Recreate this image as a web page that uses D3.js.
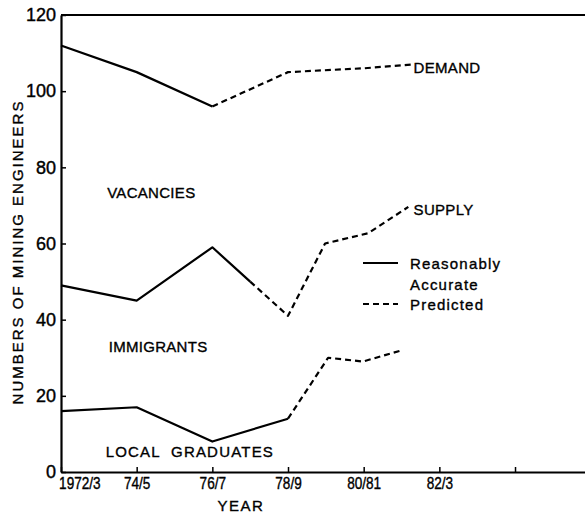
<!DOCTYPE html>
<html>
<head>
<meta charset="utf-8">
<script src="https://cdn.jsdelivr.net/npm/d3@7"></script>
<style>
  body { margin: 0; background: #fff; }
  svg { display: block; font-family: "Liberation Sans", Arial, sans-serif; }
  .axis-line { stroke: #000; stroke-width: 2.2; fill: none; }
  .series { fill: none; stroke: #000; stroke-width: 2.2; stroke-linejoin: round; }
  .dashed { stroke-dasharray: 6 4; }
  .lbl { font-size: 15px; fill: #000; stroke: #000; stroke-width: 0.35; white-space: pre; }
  .tick text { stroke: #000; stroke-width: 0.4; }
</style>
</head>
<body>
<svg id="chart"></svg>
<script>
// x positions are period indexes (0 = 1972/3, 1 = 74/5 ...)
const periods = ['1972/3', '74/5', '76/7', '78/9', '80/81', '82/3', ''];
const yTicks = [0, 20, 40, 60, 80, 100, 120];

// [period index, number of engineers]
const demandAccurate = [[0, 112], [1, 105], [2, 96]];
const demandPredicted = [[2, 96], [3, 105], [4, 106], [4.64, 107]];
const supplyAccurate = [[0, 49], [1, 45], [2, 59], [2.5, 50]];
const supplyPredicted = [[2.5, 50], [3, 41], [3.49, 60], [4.06, 62.7], [4.59, 69.6]];
const graduatesAccurate = [[0, 16], [1, 17], [2, 8], [3, 14]];
const graduatesPredicted = [[3, 14], [3.53, 30], [3.99, 29], [4.51, 32]];

// area labels, anchored in data coordinates
const areaLabels = [
  {text: 'VACANCIES', at: [0.61, 72]},
  {text: 'IMMIGRANTS', at: [0.63, 31.5]},
  {text: 'LOCAL  GRADUATES', at: [0.59, 3.9], spacing: 1.2},
  {text: 'DEMAND', at: [4.66, 104.8]},
  {text: 'SUPPLY', at: [4.66, 67.5]}
];

const width = 585, height = 513;
const margin = {top: 15, left: 61, bottom: 41};

const svg = d3.select('#chart')
  .attr('width', width)
  .attr('height', height);

const x = d3.scaleLinear()
  .domain([0, 7])
  .range([margin.left, margin.left + 7 * 75.67]);

const y = d3.scaleLinear()
  .domain([0, 120])
  .range([height - margin.bottom, margin.top]);

// Axes (ticks point inwards, like the original figure)
const xAxis = d3.axisBottom(x)
  .tickValues(d3.range(periods.length))
  .tickSize(-5)
  .tickSizeOuter(0)
  .tickFormat(i => periods[i]);

const yAxis = d3.axisLeft(y)
  .tickValues(yTicks)
  .tickSize(-5)
  .tickSizeOuter(0);

const xAxisG = svg.append('g')
  .attr('transform', `translate(0,${y(0)})`)
  .call(xAxis);
xAxisG.select('.domain').attr('class', 'axis-line');
xAxisG.selectAll('.tick line').attr('stroke-width', 1.5);
// the original lettering is tall and narrow, so squeeze it a bit
xAxisG.selectAll('.tick text')
  .attr('font-size', 17)
  .attr('y', 3)
  .attr('dy', '0.85em')
  .attr('transform', 'scale(0.8,1)')
  .attr('fill', '#000');
xAxisG.selectAll('.tick').filter(d => d === 0).select('text')
  .attr('text-anchor', 'start')
  .attr('dx', -3);

const yAxisG = svg.append('g')
  .attr('transform', `translate(${x(0)},0)`)
  .call(yAxis);
yAxisG.select('.domain').attr('class', 'axis-line');
yAxisG.selectAll('.tick line').attr('stroke-width', 1.5);
yAxisG.selectAll('.tick text')
  .attr('font-size', 18)
  .attr('x', -5)
  .attr('fill', '#000');

// top frame line
svg.append('line')
  .attr('class', 'axis-line')
  .attr('x1', x(0)).attr('x2', x(7))
  .attr('y1', y(120)).attr('y2', y(120));

const line = d3.line()
  .x(d => x(d[0]))
  .y(d => y(d[1]));

const series = [
  {data: demandAccurate, dashed: false},
  {data: demandPredicted, dashed: true},
  {data: supplyAccurate, dashed: false},
  {data: supplyPredicted, dashed: true},
  {data: graduatesAccurate, dashed: false},
  {data: graduatesPredicted, dashed: true}
];

svg.selectAll('.series')
  .data(series)
  .join('path')
  .attr('class', d => d.dashed ? 'series dashed' : 'series')
  .attr('d', d => line(d.data));

svg.selectAll('.area-label')
  .data(areaLabels)
  .join('text')
  .attr('class', 'lbl area-label')
  .attr('x', d => x(d.at[0]))
  .attr('y', d => y(d.at[1]))
  .attr('letter-spacing', d => d.spacing || 0.3)
  .text(d => d.text);

// Legend
const legend = svg.append('g')
  .attr('transform', 'translate(363,263)');
legend.append('line')
  .attr('class', 'series')
  .attr('x1', 0).attr('x2', 35);
legend.append('line')
  .attr('class', 'series dashed')
  .attr('x1', 0).attr('x2', 35)
  .attr('y1', 41).attr('y2', 41);
legend.selectAll('text')
  .data(['Reasonably', 'Accurate', 'Predicted'])
  .join('text')
  .attr('class', 'lbl')
  .attr('letter-spacing', 1.2)
  .attr('x', 47)
  .attr('y', (d, i) => 6 + i * 20.5)
  .text(d => d);

// Axis titles
svg.append('text')
  .attr('class', 'lbl')
  .attr('x', 241)
  .attr('y', 511)
  .attr('text-anchor', 'middle')
  .attr('letter-spacing', 1.5)
  .text('YEAR');

svg.append('text')
  .attr('class', 'lbl')
  .attr('transform', 'translate(23,252) rotate(-90)')
  .attr('text-anchor', 'middle')
  .attr('letter-spacing', 2)
  .text('NUMBERS OF MINING ENGINEERS');
</script>
</body>
</html>
